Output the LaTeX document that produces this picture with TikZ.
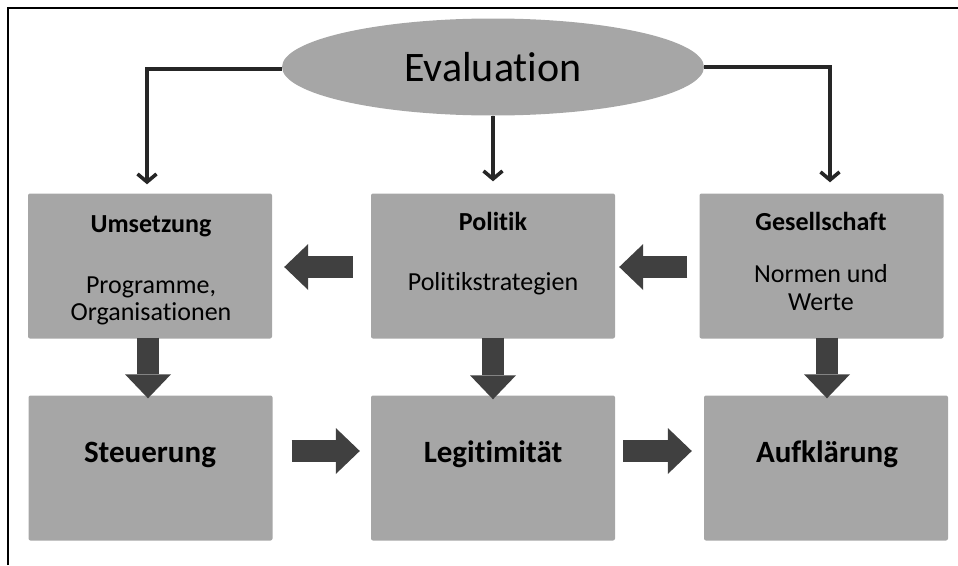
\documentclass[tikz,border=0pt]{standalone}
\usepackage{fontspec}
\setmainfont{Carlito}[Ligatures={NoCommon}]
\usetikzlibrary{shapes.geometric,arrows.meta,calc}
\definecolor{boxgray}{HTML}{A6A6A6}
\definecolor{arrowgray}{HTML}{404040}
\definecolor{linegray}{HTML}{262626}
\tikzset{
  block/.style={fill=boxgray, draw=none, rounded corners=2pt, inner sep=0pt,
    minimum width=244pt, minimum height=145pt},
  oval/.style={ellipse, fill=boxgray, draw=none, inner sep=0pt,
    minimum width=422pt, minimum height=97pt},
  title/.style={anchor=base, font=\fontsize{26}{28}\selectfont\bfseries, inner sep=0pt},
  bigtitle/.style={anchor=base, font=\fontsize{31}{33}\selectfont\bfseries, inner sep=0pt},
  subline/.style={anchor=base, font=\fontsize{26}{28}\selectfont, inner sep=0pt},
  conn/.style={draw=linegray, line width=3.6pt, line join=miter,
    -{Straight Barb[length=8pt,width=19pt]}},
  fatarrow/.style={draw=arrowgray, line width=22pt,
    -{Triangle[length=24pt,width=46pt,line width=0pt]}}
}
\begin{document}
\begin{tikzpicture}[x=1pt,y=-1pt]
\useasboundingbox (0,0) rectangle (958,565);
% frame
\draw[black, line width=2pt] (7.5,565) -- (7.5,7.5) -- (958,7.5);

% top oval
\node[oval] (E) at (493,67) {};
\node[anchor=base, font=\fontsize{42}{44}\selectfont, inner sep=0pt] (Et) at (493,81) {Evaluation};

% upper row
\node[block] (U) at (150,266) {};
\node[block] (P) at (493,266) {};
\node[block] (G) at (821.5,266) {};
% lower row
\node[block] (S) at (150.5,468) {};
\node[block] (L) at (493,468) {};
\node[block] (A) at (826,468) {};

% labels
\node[title] (Ut) at (151,232) {Umsetzung};
\node[subline] (Us1) at (151,293) {Programme,};
\node[subline] (Us2) at (151,320) {Organisationen};
\node[title] (Pt) at (493,230) {Politik};
\node[subline] (Ps) at (493,290) {Politikstrategien};
\node[title] (Gt) at (821,230) {Gesellschaft};
\node[subline] (Gs1) at (821,282) {Normen und};
\node[subline] (Gs2) at (821,310) {Werte};
\node[bigtitle] (St) at (150,462) {Steuerung};
\node[bigtitle] (Lt) at (493,462) {Legitimität};
\node[bigtitle] (At) at (827,462) {Aufklärung};

% thin connectors from the oval
\coordinate (ul) at ($(U.north)+(-3,-9)$);
\coordinate (gr) at ($(G.north)+(8.5,-11)$);
\draw[conn] ([yshift=-2pt]E.west) -| (ul);
\draw[conn] (E.south) -- ($(P.north)+(0,-12)$);
\draw[conn] (E.east) -| (gr);

% fat arrows, upper row leftwards
\draw[fatarrow] ($(P.west)+(-18,1)$) -- ($(U.east)+(12,1)$);
\draw[fatarrow] ($(G.west)+(-12,1)$) -- ($(P.east)+(4,1)$);
% fat arrows, downwards
\draw[fatarrow] ($(U.south)+(-2,-1)$) -- ($(S.north)+(-2.5,3)$);
\draw[fatarrow] ($(P.south)+(0,-1)$) -- ($(L.north)+(0,4)$);
\draw[fatarrow] ($(G.south)+(5.5,-1)$) -- ($(A.north)+(1,3)$);
% fat arrows, lower row rightwards
\draw[fatarrow] ($(S.east)+(19,-17)$) -- ($(L.west)+(-11,-17)$);
\draw[fatarrow] ($(L.east)+(8,-17)$) -- ($(A.west)+(-12,-17)$);
\end{tikzpicture}
\end{document}
